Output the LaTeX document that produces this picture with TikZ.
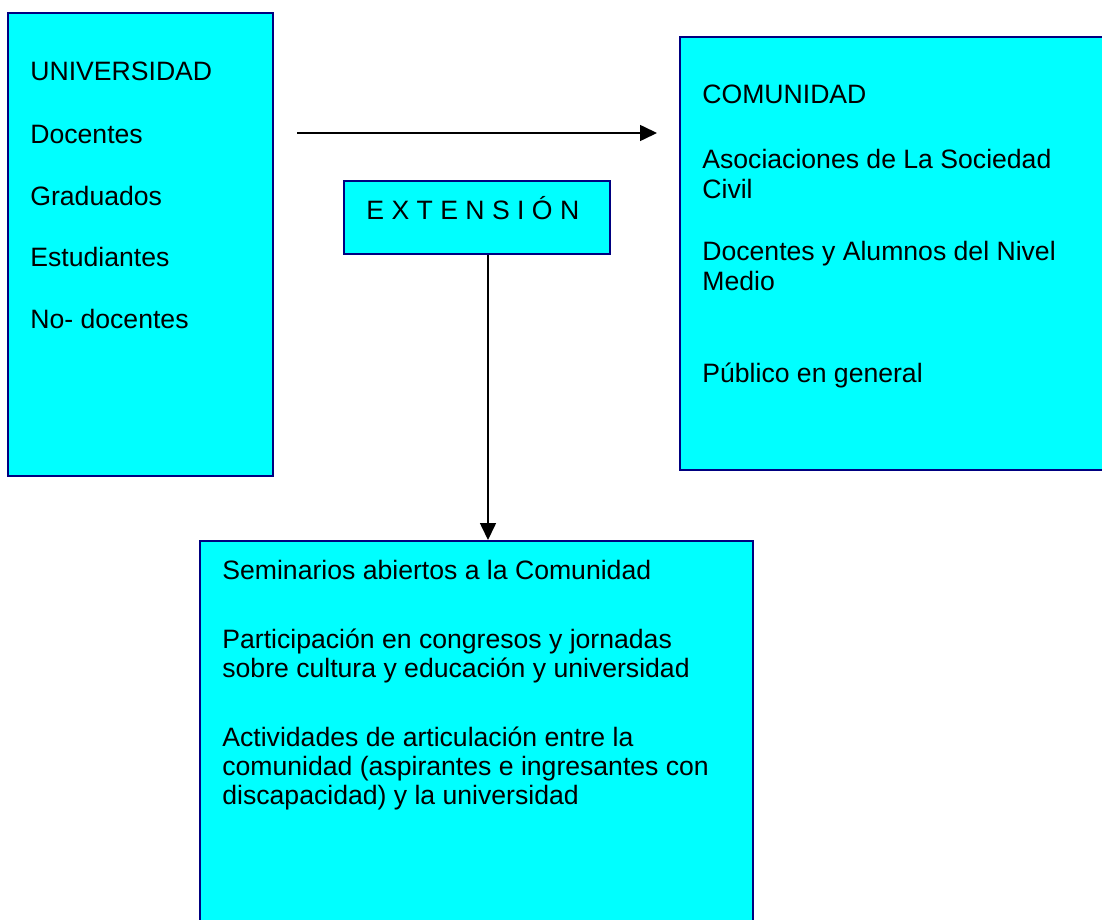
\documentclass[tikz,border=0pt]{standalone}
\usepackage{fontspec}
\setmainfont{Liberation Sans}
\usepackage{xcolor}
\usetikzlibrary{arrows.meta,calc}
\definecolor{boxfill}{RGB}{0,255,255}
\definecolor{boxline}{RGB}{0,0,128}
\tikzstyle{tsText} = [
    text=black,
    font=\fontsize{13.3}{15}\selectfont,
    inner sep=0pt,
    anchor=base west
]
\tikzstyle{tsBox} = [
    rectangle,
    draw=boxline,
    fill=boxfill,
    line width=1pt,
    inner sep=0pt
]
\tikzstyle{tsArrow} = [
    draw=black,
    line width=0.8pt,
    -{Triangle[length=8.5pt,width=8pt]}
]

\begin{document}
\begin{tikzpicture}[x=0.5pt, y=-0.5pt]

        \clip (0,0) rectangle (1102,920);

        % boxes
        \node[tsBox, minimum width=132.5pt, minimum height=231.5pt] (uni) at (140.5,244.5) { };
        \node[tsBox, minimum width=220pt, minimum height=216.5pt] (com) at (900,253.5) { };
        \node[tsBox, minimum width=133pt, minimum height=36.5pt] (ext) at (477,217.5) { };
        \node[tsBox, minimum width=276.5pt, minimum height=204.5pt] (sem) at (476.5,745.5) { };

        % connectors
        \coordinate (hfrom) at (297,133);
        \coordinate (hto) at (657,133);
        \coordinate (vline) at (488,0);
        \draw[tsArrow] (hfrom) -- (hto);
        \draw[tsArrow] (ext.south -| vline) -- (sem.north -| vline);

        % universidad
        \node[tsText] (uniT) at (30,81) {UNIVERSIDAD};
        \node[tsText] (uniA) at (30,143) {Docentes};
        \node[tsText] (uniB) at (30,205) {Graduados};
        \node[tsText] (uniC) at (30,266) {Estudiantes};
        \node[tsText] (uniD) at (30,328) {No- docentes};

        % comunidad
        \node[tsText] (comT) at (702,104) {COMUNIDAD};
        \node[tsText] (comA) at (702,169) {Asociaciones de La Sociedad};
        \node[tsText] (comB) at (702,198) {Civil};
        \node[tsText] (comC) at (702,260) {Docentes y Alumnos del Nivel};
        \node[tsText] (comD) at (702,290) {Medio};
        \node[tsText] (comE) at (702,382) {Público en general};

        % extension
        \node[tsText] (extT) at (366,219) {E X T E N S I Ó N};

        % actividades
        \node[tsText] (semA) at (222,579) {Seminarios abiertos a la Comunidad};
        \node[tsText] (semB) at (222,648) {Participación en congresos y jornadas};
        \node[tsText] (semC) at (222,677) {sobre cultura y educación y universidad};
        \node[tsText] (semD) at (222,746) {Actividades de articulación entre la};
        \node[tsText] (semE) at (222,775) {comunidad (aspirantes e ingresantes con};
        \node[tsText] (semF) at (222,804) {discapacidad) y la universidad};

\end{tikzpicture}
\end{document}
